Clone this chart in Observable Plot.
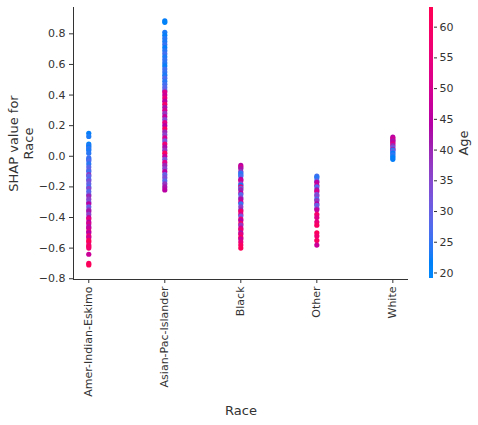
<!DOCTYPE html>
<html>
<head>
<meta charset="utf-8">
<script src="https://cdn.jsdelivr.net/npm/d3@7"></script>
<script src="https://cdn.jsdelivr.net/npm/@observablehq/plot@0.6"></script>
<style>
  body { margin: 0; background: #fff; }
  #wrap { position: relative; width: 478px; height: 425px; font-family: "DejaVu Sans", sans-serif; }
  #wrap svg { position: absolute; left: 0; top: 0; background: transparent; }
</style>
</head>
<body>
<div id="wrap"></div>
<script>
const categories = ["Amer-Indian-Eskimo", "Asian-Pac-Islander", "Black", "Other", "White"];
const yTicks = [-0.8, -0.6, -0.4, -0.2, 0.0, 0.2, 0.4, 0.6, 0.8];
const ageTicks = [20, 25, 30, 35, 40, 45, 50, 55, 60];

// [SHAP value, Age]
const amer = [[0.15,22],[0.13,23],[0.08,21],[0.07,24],[0.06,22],[0.05,25],[0.04,23],[0.02,24],[-0.01,26],[-0.02,25],[-0.03,27],[-0.05,24],[-0.07,28],[-0.09,30],[-0.1,26],[-0.12,38],[-0.13,29],[-0.15,27],[-0.16,33],[-0.18,30],[-0.2,26],[-0.21,35],[-0.23,28],[-0.25,31],[-0.26,40],[-0.28,36],[-0.3,33],[-0.31,45],[-0.33,30],[-0.35,38],[-0.36,42],[-0.38,36],[-0.4,47],[-0.41,55],[-0.43,44],[-0.44,50],[-0.46,42],[-0.47,48],[-0.49,52],[-0.5,45],[-0.52,57],[-0.53,49],[-0.55,60],[-0.56,62],[-0.58,55],[-0.59,61],[-0.6,58],[-0.64,48],[-0.7,60],[-0.71,62]];
const asian = [[0.885,22],[0.875,21],[0.81,23],[0.79,22],[0.77,24],[0.75,23],[0.73,25],[0.71,22],[0.69,24],[0.67,26],[0.65,23],[0.63,25],[0.61,24],[0.59,22],[0.57,26],[0.55,25],[0.53,23],[0.51,27],[0.49,24],[0.47,26],[0.45,28],[0.43,30],[0.42,52],[0.4,48],[0.38,55],[0.36,45],[0.34,58],[0.32,42],[0.3,50],[0.28,38],[0.26,47],[0.24,35],[0.22,53],[0.2,44],[0.18,60],[0.16,40],[0.14,36],[0.12,50],[0.1,32],[0.08,56],[0.06,43],[0.04,38],[0.02,60],[0.0,47],[-0.02,33],[-0.04,52],[-0.06,40],[-0.08,36],[-0.1,45],[-0.12,30],[-0.14,34],[-0.16,28],[-0.18,38],[-0.2,42],[-0.22,45]];
const black = [[-0.06,45],[-0.07,50],[-0.08,42],[-0.1,38],[-0.11,25],[-0.12,24],[-0.13,27],[-0.15,44],[-0.16,48],[-0.18,35],[-0.19,22],[-0.2,56],[-0.21,30],[-0.22,40],[-0.24,46],[-0.25,28],[-0.27,33],[-0.28,43],[-0.3,49],[-0.31,25],[-0.33,36],[-0.35,40],[-0.36,58],[-0.38,52],[-0.39,32],[-0.41,55],[-0.42,45],[-0.44,60],[-0.45,38],[-0.47,50],[-0.48,57],[-0.5,42],[-0.51,53],[-0.53,61],[-0.54,48],[-0.56,55],[-0.58,60],[-0.6,62]];
const other = [[-0.13,26],[-0.14,24],[-0.16,30],[-0.17,45],[-0.19,48],[-0.2,28],[-0.22,42],[-0.23,50],[-0.25,32],[-0.26,35],[-0.28,27],[-0.29,38],[-0.31,44],[-0.32,30],[-0.34,33],[-0.35,47],[-0.38,58],[-0.4,52],[-0.43,55],[-0.45,60],[-0.5,62],[-0.52,57],[-0.55,60],[-0.58,48]];
const white = [[0.125,45],[0.115,48],[0.105,50],[0.1,42],[0.09,46],[0.08,52],[0.07,40],[0.06,35],[0.05,28],[0.045,50],[0.04,24],[0.03,30],[0.02,22],[0.01,25],[0.0,23],[-0.01,21],[-0.02,22]];

const series = [amer, asian, black, other, white];
const points = series.flatMap((arr, i) => arr.map(([s, a]) => ({x: i, shap: s, age: a})));

// SHAP red_blue colormap (LCH path, darker in the middle)
const redBlue = t => {
  const h = 266.93 + t * (380.32 - 266.93);
  const c = 70 + 20 * t;
  const l = t < 0.5 ? 54 - 28 * t : 40 + 28 * (t - 0.5);
  return d3.hcl(h % 360, c, l).formatHex();
};

const ageDomain = [19.1, 63.2];
const nStops = 17;
const colorScale = {
  type: "linear",
  domain: d3.range(nStops).map(i => ageDomain[0] + i * (ageDomain[1] - ageDomain[0]) / (nStops - 1)),
  range: d3.range(nStops).map(i => redBlue(i / (nStops - 1))),
  interpolate: "lab"
};
const ink = "#333333";
const minus = v => v.toFixed(1).replace("-", "\u2212");

const main = Plot.plot({
  width: 478, height: 425,
  marginLeft: 73, marginRight: 70, marginTop: 7, marginBottom: 146,
  style: {fontFamily: "DejaVu Sans, sans-serif", color: ink, background: "transparent"},
  x: {domain: [-0.201, 4.206]},
  y: {domain: [-0.805, 0.972]},
  color: colorScale,
  marks: [
    Plot.ruleX([-0.201], {stroke: ink, strokeWidth: 1}),
    Plot.ruleY([-0.805], {stroke: ink, strokeWidth: 1}),
    Plot.axisY({ticks: yTicks, tickFormat: minus, tickSize: 4, tickPadding: 4, fontSize: 11, label: null, stroke: ink, fill: ink}),
    Plot.axisX({ticks: [0,1,2,3,4], tickFormat: i => categories[i], tickRotate: -90, tickSize: 4, tickPadding: 3, fontSize: 11, label: null, stroke: ink, fill: ink}),
    Plot.dot(points, {x: "x", y: "shap", fill: "age", r: 2.6, stroke: null}),
    Plot.text(["SHAP value for\nRace"], {frameAnchor: "left", dx: -52.5, rotate: -90, fontSize: 13, lineHeight: 1.15, fill: ink, lineAnchor: "middle", textAnchor: "middle"}),
    Plot.text(["Race"], {frameAnchor: "bottom", dy: 131, fontSize: 13, fill: ink, lineAnchor: "middle"})
  ]
});

const stops = d3.range(ageDomain[0], ageDomain[1], 0.1);
const bar = Plot.plot({
  width: 478, height: 425,
  marginLeft: 429, marginRight: 45, marginTop: 7, marginBottom: 147,
  style: {fontFamily: "DejaVu Sans, sans-serif", color: ink, background: "transparent"},
  x: {domain: [0, 1], axis: null},
  y: {domain: ageDomain},
  color: colorScale,
  marks: [
    Plot.rect(stops, {x1: 0, x2: 1, y1: d => d, y2: d => Math.min(d + 0.5, ageDomain[1]), fill: d => d, shapeRendering: "crispEdges"}),
    Plot.axisY({anchor: "right", ticks: ageTicks, tickSize: 3, tickPadding: 3, fontSize: 11, label: null, stroke: ink, fill: ink}),
    Plot.text(["Age"], {frameAnchor: "right", dx: 30, rotate: -90, fontSize: 13, fill: ink, lineAnchor: "middle", textAnchor: "middle"})
  ]
});

const wrap = document.getElementById("wrap");
wrap.appendChild(main);
wrap.appendChild(bar);
</script>
</body>
</html>
